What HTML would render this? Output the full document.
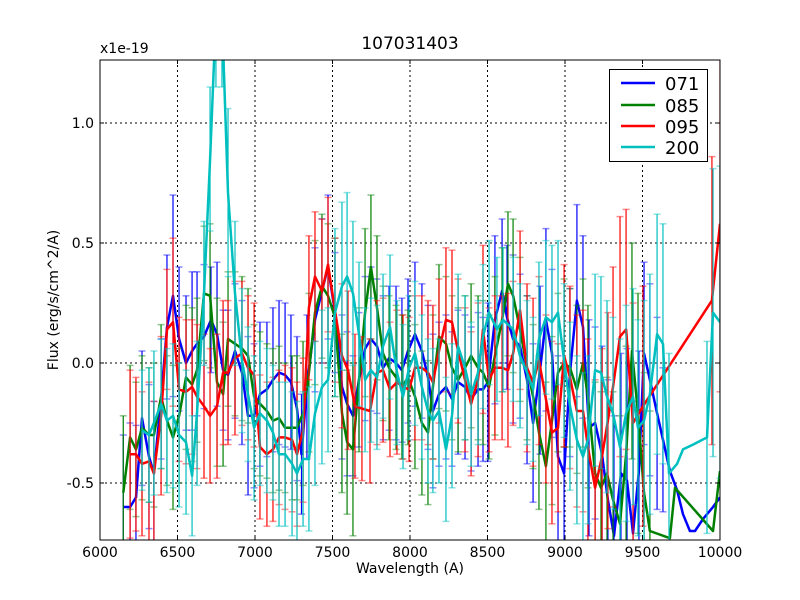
<!DOCTYPE html>
<html><head><meta charset="utf-8"><style>
html,body{margin:0;padding:0;background:#fff;overflow:hidden;width:800px;height:600px;}
svg{display:block;}
svg text{font-family:"DejaVu Sans","Liberation Sans",sans-serif;}
</style></head><body>
<svg id="chart" width="800" height="600" xmlns="http://www.w3.org/2000/svg">
<rect width="800" height="600" fill="#fff"/>
<text x="410" y="49" font-size="17" text-anchor="middle">107031403</text>
<text x="100" y="53" font-size="14">x1e-19</text>
<text x="410" y="573" font-size="14" text-anchor="middle">Wavelength (A)</text>
<text x="58" y="300" font-size="14" text-anchor="middle" transform="rotate(-90 58 300)">Flux (erg/s/cm^2/A)</text>
<defs><clipPath id="pc"><rect x="100" y="60" width="620" height="480"/></clipPath></defs>
<g id="grid"></g>
<g id="plot" clip-path="url(#pc)"></g>
<rect x="100" y="60" width="620" height="480" fill="none" stroke="#000" stroke-width="1"/>
<g id="ticks"></g>
<g>
<rect x="609.5" y="69.5" width="98" height="92" fill="#fff" stroke="#000" stroke-width="1"/>
<line x1="621" y1="83" x2="655" y2="83" stroke="#0000ff" stroke-width="2.5"/><text x="665" y="90" font-size="18">071</text>
<line x1="621" y1="105" x2="655" y2="105" stroke="#008000" stroke-width="2.5"/><text x="665" y="112" font-size="18">085</text>
<line x1="621" y1="126" x2="655" y2="126" stroke="#ff0000" stroke-width="2.5"/><text x="665" y="133" font-size="18">095</text>
<line x1="621" y1="147" x2="655" y2="147" stroke="#00bfbf" stroke-width="2.5"/><text x="665" y="154" font-size="18">200</text>
</g>
</svg>
<script>
const xTicks=[6000,6500,7000,7500,8000,8500,9000,9500,10000];
const yTicks=[-0.5,0.0,0.5,1.0];
const yTickLabels=["-0.5","0.0","0.5","1.0"];
const wl071=[6150,6194,6232,6271,6316,6348,6394,6432,6471,6510,6555,6594,6626,6671,6716,6755,6794,6826,6871,6916,6955,6994,7032,7077,7116,7155,7194,7232,7271,7300,7335,7387,7432,7471,7516,7561,7594,7632,7671,7710,7748,7787,7826,7865,7910,7948,7987,8032,8077,8116,8148,8187,8232,8271,8310,8355,8394,8439,8471,8503,8548,8594,8626,8665,8710,8755,8794,8839,8877,8916,8955,8994,9032,9077,9116,9155,9194,9239,9277,9316,9361,9400,9439,9477,9510,9548,9594,9632,9677,9723,9761,9806,9839,9890,9955,10000];
const flux071=[-0.6,-0.6,-0.56,-0.23,-0.39,-0.46,-0.15,0.15,0.28,0.1,0.0,0.05,0.08,0.11,0.18,0.12,-0.03,-0.05,0.05,-0.04,-0.22,-0.22,-0.13,-0.11,-0.07,-0.04,-0.05,-0.08,-0.19,-0.38,-0.1,0.18,0.3,0.4,0.21,-0.1,-0.17,-0.22,-0.07,0.06,0.1,0.07,-0.02,0.02,0.0,-0.03,0.05,0.12,0.05,-0.06,-0.2,-0.13,-0.1,-0.15,-0.08,-0.1,-0.15,-0.11,-0.11,-0.08,0.18,0.3,0.19,0.1,0.07,-0.07,-0.25,-0.03,0.18,0.04,-0.39,-0.46,-0.04,0.26,0.15,-0.27,-0.25,-0.38,-0.57,-0.72,-0.46,-0.49,-0.71,-0.45,0.04,-0.07,-0.21,-0.32,-0.45,-0.53,-0.63,-0.7,-0.7,-0.65,-0.6,-0.56];
const err071=[0.3,0.35,0.3,0.28,0.3,0.3,0.25,0.3,0.42,0.3,0.28,0.33,0.3,0.3,0.22,0.3,0.25,0.27,0.28,0.3,0.33,0.3,0.3,0.28,0.3,0.3,0.3,0.28,0.3,0.25,0.3,0.3,0.3,0.3,0.25,0.3,0.3,0.25,0.28,0.3,0.3,0.28,0.3,0.3,0.32,0.3,0.3,0.3,0.28,0.3,0.32,0.3,0.3,0.28,0.3,0.3,0.3,0.32,0.3,0.33,0.35,0.3,0.3,0.35,0.3,0.35,0.33,0.35,0.38,0.35,0.42,0.4,0.35,0.4,0.38,0.45,0.4,0.45,0.5,0.5,0.5,0.55,0.55,0.5,0.38,0.4,0.4,0.3,0,0,0,0,0,0,0,0];
const wl085=[6150,6194,6232,6271,6316,6348,6394,6432,6471,6510,6555,6594,6626,6671,6710,6755,6794,6826,6871,6916,6955,6994,7032,7077,7116,7155,7194,7239,7271,7310,7348,7387,7432,7471,7516,7561,7594,7632,7671,7710,7748,7787,7826,7865,7910,7948,7987,8032,8077,8116,8148,8187,8232,8271,8310,8355,8394,8439,8471,8510,8548,8594,8632,8665,8710,8755,8794,8832,8877,8916,8955,8994,9032,9077,9116,9148,9194,9232,9271,9310,9355,9394,9432,9471,9510,9548,9677,9710,9955,10000];
const flux085=[-0.54,-0.31,-0.36,-0.27,-0.3,-0.3,-0.14,-0.24,-0.31,-0.22,-0.06,-0.09,-0.03,0.29,0.28,-0.08,-0.13,0.1,0.08,0.06,0.03,-0.14,-0.17,-0.2,-0.24,-0.23,-0.27,-0.27,-0.27,-0.21,-0.04,0.21,0.32,0.28,0.19,-0.21,-0.33,-0.36,-0.07,0.21,0.4,0.23,0.04,-0.02,-0.06,-0.1,-0.06,-0.14,-0.25,-0.29,-0.1,0.11,0.08,-0.02,-0.07,-0.02,0.03,-0.02,-0.04,-0.1,0.03,0.18,0.33,0.28,0.14,-0.02,-0.14,-0.29,-0.43,-0.24,-0.04,0.0,-0.02,-0.11,0.0,-0.14,-0.46,-0.52,-0.46,-0.57,-0.67,-0.38,0.05,-0.21,-0.54,-0.7,-0.73,-0.52,-0.7,-0.45];
const err085=[0.32,0.3,0.28,0.3,0.28,0.3,0.3,0.27,0.3,0.28,0.3,0.32,0.3,0.28,0.3,0.35,0.3,0.28,0.3,0.3,0.28,0.3,0.3,0.28,0.3,0.3,0.27,0.3,0.3,0.3,0.33,0.3,0.3,0.3,0.33,0.33,0.3,0.36,0.3,0.35,0.3,0.3,0.28,0.3,0.3,0.3,0.28,0.3,0.3,0.3,0.3,0.3,0.28,0.3,0.3,0.3,0.3,0.3,0.3,0.3,0.33,0.3,0.3,0.32,0.3,0.3,0.3,0.32,0.35,0.35,0.33,0.35,0.33,0.35,0.35,0.38,0.38,0.4,0.4,0.45,0.45,0.45,0.45,0.5,0.5,0.5,0,0,0,0];
const wl095=[6194,6232,6271,6316,6348,6394,6432,6471,6510,6555,6594,6626,6671,6710,6755,6794,6826,6871,6916,6955,6994,7032,7077,7116,7155,7194,7239,7271,7310,7348,7387,7432,7471,7516,7561,7600,7645,7690,7742,7787,7826,7871,7916,7955,7994,8032,8077,8116,8148,8187,8232,8271,8310,8355,8394,8439,8471,8510,8548,8594,8632,8665,8710,8755,8794,8832,8877,8916,8955,8994,9032,9077,9116,9148,9194,9239,9277,9310,9355,9394,9439,9503,9948,10000];
const flux095=[-0.38,-0.38,-0.42,-0.41,-0.46,-0.22,0.14,0.17,-0.11,-0.12,-0.1,-0.14,-0.18,-0.22,-0.18,-0.04,-0.04,0.02,0.04,-0.02,-0.05,-0.35,-0.38,-0.36,-0.31,-0.31,-0.32,-0.38,-0.28,0.23,0.36,0.3,0.41,0.22,0.03,-0.03,-0.18,-0.19,-0.2,-0.04,-0.03,-0.11,-0.08,-0.1,-0.11,-0.02,-0.02,-0.04,-0.08,0.05,0.18,0.17,0.05,-0.07,-0.17,-0.07,0.14,-0.07,-0.02,-0.02,-0.03,0.04,0.22,-0.02,-0.08,0.01,-0.15,-0.29,-0.27,0.03,-0.06,-0.2,-0.2,-0.35,-0.52,-0.39,-0.24,-0.1,0.11,0.14,-0.25,-0.18,0.26,0.58];
const err095=[0.35,0.32,0.3,0.33,0.3,0.33,0.25,0.35,0.3,0.3,0.28,0.3,0.3,0.28,0.3,0.3,0.3,0.32,0.3,0.3,0.3,0.3,0.3,0.3,0.28,0.3,0.3,0.3,0.3,0.3,0.27,0.3,0.28,0.3,0.3,0.33,0.3,0.3,0.3,0.3,0.3,0.28,0.3,0.3,0.3,0.3,0.3,0.3,0.32,0.3,0.3,0.3,0.3,0.3,0.3,0.32,0.35,0.3,0.3,0.3,0.32,0.3,0.33,0.35,0.35,0.35,0.35,0.38,0.35,0.38,0.38,0.4,0.42,0.45,0.45,0.45,0.45,0.5,0.5,0.5,0.5,0.5,0.6,0.7];
const wl200=[6271,6316,6348,6394,6432,6471,6510,6555,6594,6626,6671,6710,6748,6787,6826,6871,6916,6955,6994,7032,7077,7116,7155,7194,7239,7271,7310,7348,7387,7432,7471,7516,7561,7594,7632,7671,7710,7748,7787,7826,7871,7916,7955,7994,8032,8077,8116,8148,8187,8232,8271,8310,8355,8394,8439,8471,8510,8561,8600,8665,8710,8755,8794,8832,8877,8916,8955,8994,9032,9077,9116,9148,9194,9232,9271,9310,9355,9394,9439,9471,9510,9548,9594,9632,9671,9723,9761,9826,9916,9955,10000];
const flux200=[-0.28,-0.3,-0.25,-0.17,-0.24,-0.22,-0.3,-0.33,-0.47,-0.21,0.29,0.85,1.45,1.45,0.71,0.29,0.01,-0.13,-0.27,-0.21,-0.24,-0.29,-0.38,-0.38,-0.42,-0.46,-0.4,-0.4,-0.21,-0.1,-0.07,0.21,0.32,0.36,0.29,0.12,-0.07,-0.03,-0.06,0.07,0.15,-0.04,-0.14,-0.02,0.04,-0.1,-0.2,-0.24,-0.2,-0.36,-0.22,0.07,-0.02,-0.13,-0.04,0.11,0.21,0.14,0.18,0.14,0.03,-0.04,-0.11,0.1,0.19,0.17,0.21,0.01,-0.18,-0.32,-0.39,-0.32,-0.03,-0.04,-0.14,-0.21,-0.35,-0.21,-0.14,-0.27,-0.24,-0.13,0.12,0.08,-0.46,-0.42,-0.36,-0.34,-0.31,0.21,0.17];
const err200=[0.25,0.28,0.3,0.27,0.3,0.3,0.3,0.3,0.25,0.3,0.3,0.3,0.3,0.3,0.35,0.3,0.3,0.28,0.3,0.3,0.3,0.28,0.3,0.3,0.3,0.3,0.28,0.3,0.3,0.32,0.3,0.35,0.35,0.35,0.3,0.3,0.3,0.3,0.3,0.3,0.3,0.3,0.3,0.3,0.3,0.3,0.3,0.3,0.3,0.3,0.3,0.3,0.3,0.3,0.3,0.3,0.3,0.3,0.3,0.3,0.3,0.3,0.3,0.32,0.32,0.32,0.3,0.32,0.35,0.35,0.35,0.35,0.4,0.4,0.4,0.4,0.45,0.45,0.45,0.45,0.5,0.5,0.5,0.5,0.5,0,0,0,0.4,0.6,0.65];

const NS="http://www.w3.org/2000/svg";
const X0=100,X1=720,Y0=60,Y1=540,XMIN=6000,XMAX=10000,YMIN=-0.7375,YMAX=1.2625;
function sx(v){return X0+(v-XMIN)/(XMAX-XMIN)*(X1-X0);}
function sy(v){return Y1-(v-YMIN)/(YMAX-YMIN)*(Y1-Y0);}
function cl(y){return Math.max(Y0,Math.min(Y1,y));}
function mk(tag,attrs,parent){const e=document.createElementNS(NS,tag);for(const k in attrs)e.setAttribute(k,attrs[k]);parent.appendChild(e);return e;}
const grid=document.getElementById('grid'),ticks=document.getElementById('ticks'),plot=document.getElementById('plot');
xTicks.forEach(function(t){
  const x=sx(t);
  if(t>XMIN&&t<XMAX){const g=mk('line',{x1:x,y1:Y0,x2:x,y2:Y1,stroke:'#000','stroke-dasharray':'2,3','stroke-width':1},grid);
  
  }
  mk('line',{x1:x,y1:Y1,x2:x,y2:Y1-4,stroke:'#000'},ticks);
  mk('line',{x1:x,y1:Y0,x2:x,y2:Y0+4,stroke:'#000'},ticks);
  const tx=mk('text',{x:x,y:Y1+17,'font-size':14,'text-anchor':'middle'},ticks);
  tx.textContent=String(t);
  
  
});
yTicks.forEach(function(t,i){
  const y=sy(t);
  const g=mk('line',{x1:X0,y1:y,x2:X1,y2:y,stroke:'#000','stroke-dasharray':'2,3','stroke-width':1},grid);
  
  
  mk('line',{x1:X0,y1:y,x2:X0+4,y2:y,stroke:'#000'},ticks);
  mk('line',{x1:X1,y1:y,x2:X1-4,y2:y,stroke:'#000'},ticks);
  const tx=mk('text',{x:X0-6,y:y+5,'font-size':14,'text-anchor':'end'},ticks);
  tx.textContent=yTickLabels[i];
  
  
});
const series=[
 {name:'071',wl:wl071,f:flux071,e:err071,c:'#0000ff'},
 {name:'085',wl:wl085,f:flux085,e:err085,c:'#008000'},
 {name:'095',wl:wl095,f:flux095,e:err095,c:'#ff0000'},
 {name:'200',wl:wl200,f:flux200,e:err200,c:'#00bfbf'}];
series.forEach(function(s){
  const g=mk('g',{},plot);
  
  
  s.wl.forEach(function(w,i){
    const e=(s.e[i]!==undefined)?s.e[i]:0.3;
    if(!(e>0))return;
    const x=sx(w),ya=sy(s.f[i]+e),yb=sy(s.f[i]-e);
    const eb=mk('line',{x1:x,y1:cl(ya),x2:x,y2:cl(yb),stroke:s.c,'stroke-width':1.2},g);
    
    
    if(ya>=Y0&&ya<=Y1)mk('line',{x1:x-3.5,y1:ya,x2:x+3.5,y2:ya,stroke:s.c,'stroke-width':1.5,'stroke-opacity':0.45},g);
    if(yb>=Y0&&yb<=Y1)mk('line',{x1:x-3.5,y1:yb,x2:x+3.5,y2:yb,stroke:s.c,'stroke-width':1.5,'stroke-opacity':0.45},g);
  });
  const pts=s.wl.map(function(w,i){return sx(w).toFixed(1)+','+sy(s.f[i]).toFixed(1);}).join(' ');
  const pl=mk('polyline',{points:pts,fill:'none',stroke:s.c,'stroke-width':2.5,'stroke-linejoin':'round'},g);
  
  
});
</script>
</body></html>
